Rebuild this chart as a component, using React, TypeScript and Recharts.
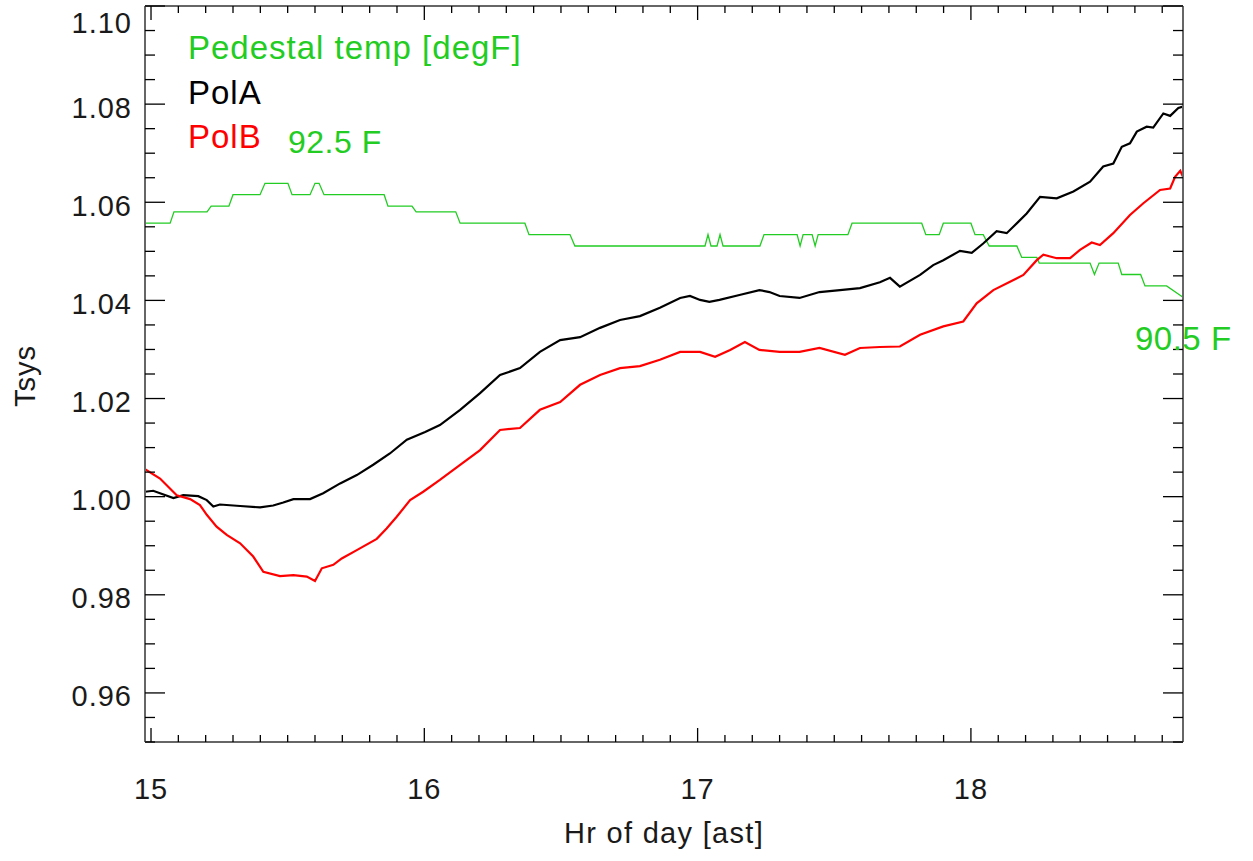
import React from "react";
import { LineChart, Line, XAxis, YAxis } from "recharts";

// ---------- data ----------
const polAHours = [14.978, 15.008, 15.082, 15.118, 15.173, 15.204, 15.228, 15.252, 15.326, 15.399, 15.447, 15.484, 15.521, 15.582, 15.630, 15.692, 15.753, 15.813, 15.874, 15.936, 16.003, 16.057, 16.131, 16.204, 16.277, 16.350, 16.423, 16.497, 16.570, 16.643, 16.716, 16.789, 16.862, 16.936, 16.972, 17.009, 17.043, 17.080, 17.153, 17.226, 17.263, 17.300, 17.373, 17.446, 17.521, 17.594, 17.667, 17.704, 17.740, 17.814, 17.862, 17.899, 17.960, 18.003, 18.045, 18.094, 18.131, 18.155, 18.204, 18.253, 18.314, 18.375, 18.436, 18.484, 18.521, 18.552, 18.582, 18.607, 18.643, 18.667, 18.704, 18.729, 18.759, 18.776];
const polAValues = [1.0010, 1.0012, 0.9997, 1.0003, 1.0001, 0.9993, 0.9980, 0.9984, 0.9981, 0.9978, 0.9982, 0.9988, 0.9995, 0.9995, 1.0007, 1.0027, 1.0044, 1.0065, 1.0088, 1.0116, 1.0132, 1.0146, 1.0177, 1.0211, 1.0248, 1.0262, 1.0295, 1.0319, 1.0325, 1.0344, 1.0360, 1.0368, 1.0385, 1.0405, 1.0409, 1.0401, 1.0397, 1.0401, 1.0411, 1.0421, 1.0417, 1.0409, 1.0405, 1.0417, 1.0421, 1.0425, 1.0437, 1.0446, 1.0428, 1.0452, 1.0472, 1.0482, 1.0501, 1.0497, 1.0516, 1.0541, 1.0537, 1.0550, 1.0577, 1.0611, 1.0608, 1.0622, 1.0642, 1.0673, 1.0679, 1.0713, 1.0720, 1.0744, 1.0754, 1.0752, 1.0781, 1.0776, 1.0792, 1.0795];

const polBHours = [14.978, 15.033, 15.094, 15.143, 15.179, 15.204, 15.240, 15.277, 15.326, 15.374, 15.411, 15.472, 15.521, 15.570, 15.600, 15.625, 15.667, 15.698, 15.753, 15.826, 15.862, 15.899, 15.948, 15.996, 16.057, 16.131, 16.204, 16.277, 16.350, 16.423, 16.497, 16.570, 16.643, 16.716, 16.789, 16.862, 16.936, 17.009, 17.064, 17.119, 17.173, 17.226, 17.300, 17.373, 17.446, 17.539, 17.594, 17.667, 17.740, 17.814, 17.899, 17.972, 18.021, 18.082, 18.143, 18.192, 18.241, 18.265, 18.314, 18.363, 18.399, 18.442, 18.472, 18.521, 18.582, 18.631, 18.692, 18.729, 18.747, 18.766, 18.776];
const polBValues = [1.0056, 1.0037, 1.0003, 0.9995, 0.9983, 0.9963, 0.9939, 0.9922, 0.9905, 0.9878, 0.9847, 0.9838, 0.9840, 0.9837, 0.9828, 0.9854, 0.9861, 0.9874, 0.9891, 0.9914, 0.9935, 0.9959, 0.9993, 1.0010, 1.0034, 1.0065, 1.0095, 1.0136, 1.0140, 1.0177, 1.0193, 1.0228, 1.0248, 1.0262, 1.0266, 1.0279, 1.0295, 1.0295, 1.0285, 1.0299, 1.0315, 1.0299, 1.0295, 1.0295, 1.0303, 1.0289, 1.0303, 1.0305, 1.0306, 1.0330, 1.0347, 1.0357, 1.0394, 1.0421, 1.0438, 1.0452, 1.0482, 1.0493, 1.0486, 1.0486, 1.0503, 1.0518, 1.0513, 1.0537, 1.0574, 1.0598, 1.0625, 1.0628, 1.0652, 1.0664, 1.0652];

const tempHours = [14.978, 15.070, 15.084, 15.205, 15.220, 15.285, 15.300, 15.399, 15.417, 15.501, 15.516, 15.582, 15.600, 15.615, 15.633, 15.853, 15.867, 15.955, 15.970, 16.115, 16.131, 16.368, 16.383, 16.533, 16.551, 17.027, 17.038, 17.049, 17.071, 17.082, 17.093, 17.228, 17.243, 17.364, 17.375, 17.386, 17.419, 17.430, 17.441, 17.550, 17.565, 17.820, 17.835, 17.884, 17.899, 18.000, 18.015, 18.045, 18.067, 18.168, 18.186, 18.241, 18.250, 18.436, 18.452, 18.469, 18.539, 18.552, 18.621, 18.637, 18.716, 18.776];
const tempValues = [91.8, 91.8, 92.0, 92.0, 92.1, 92.1, 92.3, 92.3, 92.5, 92.5, 92.3, 92.3, 92.5, 92.5, 92.3, 92.3, 92.1, 92.1, 92.0, 92.0, 91.8, 91.8, 91.6, 91.6, 91.4, 91.4, 91.6, 91.4, 91.4, 91.6, 91.4, 91.4, 91.6, 91.6, 91.4, 91.6, 91.6, 91.4, 91.6, 91.6, 91.8, 91.8, 91.6, 91.6, 91.8, 91.8, 91.6, 91.6, 91.4, 91.4, 91.2, 91.2, 91.1, 91.1, 90.9, 91.1, 91.1, 90.9, 90.9, 90.7, 90.7, 90.5];

const xMajorTicks = [15, 16, 17, 18];
const xTickLabels = ["15", "16", "17", "18"];
const xTicks = Array.from({ length: 38 }, (_, i) => Math.round((15 + i * 0.1) * 10) / 10);
const yMajorTicks = [0.96, 0.98, 1.0, 1.02, 1.04, 1.06, 1.08, 1.1];
const yTickLabels = ["0.96", "0.98", "1.00", "1.02", "1.04", "1.06", "1.08", "1.10"];
const yTicks = Array.from({ length: 31 }, (_, i) => Math.round((0.95 + i * 0.005) * 1000) / 1000);

const xDomain = [14.978, 18.776];
const yDomain = [0.95, 1.1];
const tempDomain = [82.7, 95.61];

const maxTempLabel = "92.5 F";
const minTempLabel = "90.5 F";

// ---------- build series ----------
const polAData = polAHours.map((h, i) => ({ h, v: polAValues[i] }));
const polBData = polBHours.map((h, i) => ({ h, v: polBValues[i] }));
const tempData = tempHours.map((h, i) => ({ h, v: tempValues[i] }));

// ---------- layout ----------
const W = 1253;
const H = 861;
const PLOT = { left: 145, right: 1183, top: 6, bottom: 742 };
const FONT = "'Liberation Sans', Arial, Helvetica, sans-serif";
const GREEN = "#22cc22";
const TEXT = "#1a1a1a";
const AXIS = "#666666";

const near = (a: number, b: number) => Math.abs(a - b) < 1e-6;

function BottomTick(props: any) {
  const { x, payload } = props;
  const idx = xMajorTicks.findIndex((t) => near(t, payload.value));
  const major = idx >= 0;
  return (
    <g>
      <line x1={x} x2={x} y1={PLOT.bottom} y2={PLOT.bottom - (major ? 14 : 7)} stroke="#000" strokeWidth={1.3} />
      {major && (
        <text x={x} y={799} textAnchor="middle" fontFamily={FONT} fontSize={29} letterSpacing={1} fill={TEXT}>
          {xTickLabels[idx]}
        </text>
      )}
    </g>
  );
}

function TopTick(props: any) {
  const { x, payload } = props;
  const major = xMajorTicks.some((t) => near(t, payload.value));
  return <line x1={x} x2={x} y1={PLOT.top} y2={PLOT.top + (major ? 14 : 7)} stroke="#000" strokeWidth={1.3} />;
}

function LeftTick(props: any) {
  const { y, payload } = props;
  const idx = yMajorTicks.findIndex((t) => near(t, payload.value));
  const major = idx >= 0;
  const isTop = idx === yMajorTicks.length - 1;
  return (
    <g>
      <line x1={PLOT.left} x2={PLOT.left + (major ? 20 : 10)} y1={y} y2={y} stroke="#000" strokeWidth={1.3} />
      {major && (
        <text x={132} y={y + (isTop ? 26.5 : 13.5)} textAnchor="end" fontFamily={FONT} fontSize={29} letterSpacing={1} fill={TEXT}>
          {yTickLabels[idx]}
        </text>
      )}
    </g>
  );
}

function RightTick(props: any) {
  const { y, payload } = props;
  const major = yMajorTicks.some((t) => near(t, payload.value));
  return <line x1={PLOT.right} x2={PLOT.right - (major ? 20 : 10)} y1={y} y2={y} stroke="#000" strokeWidth={1.3} />;
}

export default function App() {
  return (
    <div style={{ position: "absolute", left: 0, top: 0, width: W, height: H, background: "#fff" }}>
      <LineChart width={W} height={H} margin={{ top: 0, right: 0, bottom: 0, left: 0 }}>
        <XAxis
          xAxisId="b"
          type="number"
          dataKey="h"
          orientation="bottom"
          domain={xDomain}
          allowDataOverflow
          ticks={xTicks}
          interval={0}
          height={H - PLOT.bottom}
          tickLine={false}
          axisLine={{ stroke: AXIS, strokeWidth: 2 }}
          tick={<BottomTick />}
        />
        <XAxis
          xAxisId="t"
          type="number"
          dataKey="h"
          orientation="top"
          domain={xDomain}
          allowDataOverflow
          ticks={xTicks}
          interval={0}
          height={PLOT.top}
          tickLine={false}
          axisLine={{ stroke: AXIS, strokeWidth: 2 }}
          tick={<TopTick />}
        />
        <YAxis
          yAxisId="l"
          type="number"
          orientation="left"
          domain={yDomain}
          allowDataOverflow
          ticks={yTicks}
          interval={0}
          width={PLOT.left}
          tickLine={false}
          axisLine={{ stroke: AXIS, strokeWidth: 2 }}
          tick={<LeftTick />}
        />
        <YAxis
          yAxisId="r"
          type="number"
          orientation="right"
          domain={yDomain}
          allowDataOverflow
          ticks={yTicks}
          interval={0}
          width={W - PLOT.right}
          tickLine={false}
          axisLine={{ stroke: AXIS, strokeWidth: 2 }}
          tick={<RightTick />}
        />
        <YAxis yAxisId="temp" type="number" domain={tempDomain} allowDataOverflow hide width={0} />
        <Line
          xAxisId="b"
          yAxisId="temp"
          data={tempData}
          dataKey="v"
          type="linear"
          stroke={GREEN}
          strokeWidth={1.3}
          dot={false}
          activeDot={false}
          isAnimationActive={false}
        />
        <Line
          xAxisId="b"
          yAxisId="l"
          data={polAData}
          dataKey="v"
          type="linear"
          stroke="#000000"
          strokeWidth={2.2}
          dot={false}
          activeDot={false}
          isAnimationActive={false}
        />
        <Line
          xAxisId="b"
          yAxisId="l"
          data={polBData}
          dataKey="v"
          type="linear"
          stroke="#ff0000"
          strokeWidth={2.2}
          dot={false}
          activeDot={false}
          isAnimationActive={false}
        />
      </LineChart>
      <svg
        width={W}
        height={H}
        style={{ position: "absolute", left: 0, top: 0, pointerEvents: "none" }}
      >
        <text x={188} y={59} fontFamily={FONT} fontSize={33} letterSpacing={1} fill={GREEN}>Pedestal temp [degF]</text>
        <text x={188} y={104} fontFamily={FONT} fontSize={33} letterSpacing={1} fill="#000">PolA</text>
        <text x={188} y={148} fontFamily={FONT} fontSize={33} letterSpacing={1} fill="#ff0000">PolB</text>
        <text x={288} y={153} fontFamily={FONT} fontSize={32} letterSpacing={0.5} fill={GREEN}>{maxTempLabel}</text>
        <text x={1135} y={350} fontFamily={FONT} fontSize={33} letterSpacing={0.5} fill={GREEN}>{minTempLabel}</text>
        <text x={664} y={843} textAnchor="middle" fontFamily={FONT} fontSize={29} letterSpacing={1.3} fill={TEXT}>Hr of day [ast]</text>
        <text
          x={0}
          y={0}
          transform="translate(35 376) rotate(-90)"
          textAnchor="middle"
          fontFamily={FONT}
          fontSize={29}
          letterSpacing={1}
          fill={TEXT}
        >
          Tsys
        </text>
      </svg>
    </div>
  );
}
